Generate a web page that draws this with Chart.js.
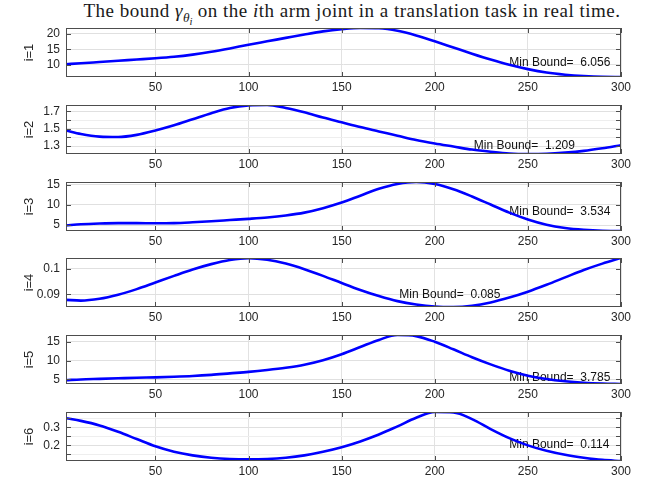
<!DOCTYPE html>
<html>
<head>
<meta charset="utf-8">
<script src="https://cdn.jsdelivr.net/npm/chart.js@4.4.0/dist/chart.umd.min.js"></script>
<style>
  html, body { margin: 0; padding: 0; background: #fff; }
  #fig { position: relative; width: 648px; height: 481px; overflow: hidden; background: #fff; }
  #title {
    position: absolute; left: 0; top: 0px; width: 704px; text-align: center;
    font-family: "Liberation Serif", "DejaVu Serif", serif; font-size: 19px; letter-spacing: 0.5px;
    color: #1a1a1a; white-space: nowrap; line-height: 22px;
  }
  #title sub { font-size: 70%; line-height: 0; vertical-align: -0.35em; letter-spacing: 0; }
  #title sub sub { font-size: 80%; vertical-align: -0.3em; }
  .panel { position: absolute; left: 0; }
</style>
</head>
<body>
<div id="fig">
  <div id="title">The bound <i>γ</i><sub><i>θ</i><sub><i>i</i></sub></sub> on the <i>i</i>th arm joint in a translation task in real time.</div>
</div>
<script>
// time samples (x axis)
const t = [2, 10, 20, 30, 40, 50, 60, 70, 80, 90, 100, 110, 120, 130, 140, 150,
           160, 170, 180, 190, 200, 210, 220, 230, 240, 250, 260, 270, 280, 290, 300];
const xTicks = [50, 100, 150, 200, 250, 300];

// bound on each joint
const joint1 = [10.2, 10.5, 10.9, 11.3, 11.7, 12.1, 12.6, 13.3, 14.2, 15.3, 16.5, 17.6, 18.7, 19.8, 20.8, 21.5,
                21.9, 21.8, 21.0, 19.5, 17.6, 15.6, 13.6, 11.7, 10.0, 8.6, 7.5, 6.8, 6.35, 6.1, 6.056];
const joint2 = [1.48, 1.44, 1.41, 1.405, 1.43, 1.48, 1.54, 1.61, 1.68, 1.74, 1.77, 1.775, 1.74, 1.69, 1.63, 1.575,
                1.52, 1.47, 1.42, 1.37, 1.33, 1.295, 1.26, 1.235, 1.215, 1.209, 1.212, 1.225, 1.245, 1.275, 1.31];
const joint3 = [4.9, 5.2, 5.4, 5.5, 5.5, 5.45, 5.5, 5.7, 5.95, 6.25, 6.55, 6.9, 7.4, 8.1, 9.2, 10.6,
                12.3, 14.0, 15.2, 15.7, 15.2, 13.9, 12.1, 10.1, 8.1, 6.4, 5.1, 4.3, 3.85, 3.6, 3.534];
const joint4 = [0.0878, 0.0875, 0.0882, 0.0898, 0.0920, 0.0946, 0.0972, 0.0997, 0.1018, 0.1034, 0.1041, 0.1035, 0.1020, 0.0998, 0.0972, 0.0944,
                0.0917, 0.0893, 0.0873, 0.0860, 0.0852, 0.085, 0.0855, 0.0868, 0.0887, 0.0910, 0.0937, 0.0966, 0.0995, 0.1020, 0.1042];
const joint5 = [4.8, 5.0, 5.15, 5.3, 5.45, 5.55, 5.7, 5.9, 6.2, 6.6, 7.0, 7.5, 8.1, 8.9, 10.1, 11.7,
                13.6, 15.5, 16.8, 16.5, 15.0, 13.0, 10.9, 9.0, 7.3, 6.0, 5.1, 4.5, 4.1, 3.88, 3.785];
const joint6 = [0.35, 0.335, 0.31, 0.275, 0.235, 0.195, 0.165, 0.145, 0.132, 0.125, 0.123, 0.125, 0.132, 0.145, 0.165, 0.19,
                0.222, 0.26, 0.305, 0.352, 0.384, 0.382, 0.345, 0.29, 0.24, 0.2, 0.17, 0.148, 0.132, 0.12, 0.114];

// labelled y ticks and unlabelled minor ticks
const yTicks1 = [10, 15, 20];     const yMinor1 = [];
const yTicks2 = [1.3, 1.5, 1.7];  const yMinor2 = [1.4, 1.6];
const yTicks3 = [5, 10, 15];      const yMinor3 = [];
const yTicks4 = [0.09, 0.1];      const yMinor4 = [];
const yTicks5 = [5, 10, 15];      const yMinor5 = [];
const yTicks6 = [0.2, 0.3];       const yMinor6 = [0.15, 0.25, 0.35];

// minimum bound of each joint and where its note sits (data coordinates)
const minBound = [6.056, 1.209, 3.534, 0.085, 3.785, 0.114];
const noteX = [240, 221, 240, 181, 240, 240];
const noteY = [10.8, 1.31, 8.4, 0.0897, 5.45, 0.206];

const joints = [joint1, joint2, joint3, joint4, joint5, joint6];
const majors = [yTicks1, yTicks2, yTicks3, yTicks4, yTicks5, yTicks6];
const minors = [yMinor1, yMinor2, yMinor3, yMinor4, yMinor5, yMinor6];

// panel geometry
const plotTops = [28, 105, 182, 258, 335, 412];
const plotH = 49, padTop = 14, xAxisH = 22, axisLeft = 66, plotRight = 621, W = 648;

const AXIS_COLOR = '#4d4d4d';
const TEXT_COLOR = '#262626';
const TICK_LEN = 5;

const framePlugin = {
  id: 'frame',
  beforeDatasetsDraw(chart) {
    const o = chart.options.plugins.frame;
    const { ctx } = chart;
    const xs = chart.scales.x, ys = chart.scales.y;
    ctx.save();
    ctx.font = '12px "Liberation Sans", Arial, sans-serif';
    ctx.fillStyle = '#111';
    ctx.textAlign = 'left';
    ctx.textBaseline = 'middle';
    ctx.fillText(o.note, xs.getPixelForValue(o.nx), ys.getPixelForValue(o.ny));
    ctx.restore();
  },
  afterDatasetsDraw(chart) {
    const o = chart.options.plugins.frame;
    const { ctx, chartArea: a } = chart;
    const xs = chart.scales.x, ys = chart.scales.y;
    ctx.save();
    ctx.strokeStyle = AXIS_COLOR;
    ctx.lineWidth = 1;
    ctx.beginPath();
    xTicks.forEach(v => {
      const px = Math.round(xs.getPixelForValue(v)) + 0.5;
      ctx.moveTo(px, a.bottom); ctx.lineTo(px, a.bottom - TICK_LEN);
      ctx.moveTo(px, a.top); ctx.lineTo(px, a.top + TICK_LEN);
    });
    o.yAll.forEach(v => {
      const py = Math.round(ys.getPixelForValue(v)) + 0.5;
      ctx.moveTo(a.left, py); ctx.lineTo(a.left + TICK_LEN, py);
      ctx.moveTo(a.right, py); ctx.lineTo(a.right - TICK_LEN, py);
    });
    ctx.stroke();
    ctx.strokeRect(Math.round(a.left) + 0.5, Math.round(a.top) + 0.5,
                   Math.round(a.right - a.left) - 1, Math.round(a.bottom - a.top) - 1);
    ctx.restore();
  }
};

const fig = document.getElementById('fig');

joints.forEach((data, k) => {
  const wrap = document.createElement('div');
  wrap.className = 'panel';
  const H = padTop + plotH + xAxisH;
  wrap.style.top = (plotTops[k] - padTop) + 'px';
  wrap.style.width = W + 'px';
  wrap.style.height = H + 'px';
  const cv = document.createElement('canvas');
  cv.width = W; cv.height = H;
  cv.style.width = W + 'px'; cv.style.height = H + 'px';
  wrap.appendChild(cv);
  fig.appendChild(wrap);

  const major = majors[k], minor = minors[k];
  const yAll = major.concat(minor).sort((a, b) => a - b);

  new Chart(cv, {
    type: 'line',
    data: {
      datasets: [{
        data: t.map((x, i) => ({ x: x, y: data[i] })),
        borderColor: '#0000ff',
        borderWidth: 2.6,
        pointRadius: 0,
        fill: false,
        cubicInterpolationMode: 'monotone'
      }]
    },
    options: {
      responsive: false,
      animation: false,
      devicePixelRatio: 1,
      layout: { padding: { top: padTop, right: W - plotRight, left: 0, bottom: 0 } },
      plugins: {
        legend: { display: false },
        tooltip: { enabled: false },
        frame: {
          note: 'Min Bound=  ' + minBound[k].toFixed(3),
          nx: noteX[k], ny: noteY[k], yAll: yAll
        }
      },
      scales: {
        x: {
          type: 'linear',
          min: t[0], max: t[t.length - 1],
          afterBuildTicks: s => { s.ticks = xTicks.map(v => ({ value: v })); },
          afterFit: s => { s.height = xAxisH; s.paddingLeft = 0; s.paddingRight = 0; },
          ticks: {
            color: TEXT_COLOR, padding: 3, maxRotation: 0, autoSkip: false,
            font: { family: '"Liberation Sans", Arial, sans-serif', size: 12 },
            callback: v => String(v)
          },
          grid: { color: '#e2e2e2', drawTicks: false, lineWidth: 1 },
          border: { display: false }
        },
        y: {
          type: 'linear',
          min: Math.min(...data), max: Math.max(...data),
          afterBuildTicks: s => { s.ticks = yAll.map(v => ({ value: v })); },
          afterFit: s => { s.width = axisLeft; s.paddingTop = 0; s.paddingBottom = 0; },
          ticks: {
            color: TEXT_COLOR, padding: 6, autoSkip: false,
            font: { family: '"Liberation Sans", Arial, sans-serif', size: 12 },
            callback: v => (major.includes(v) ? String(v) : '')
          },
          grid: {
            color: c => (c.tick && major.includes(c.tick.value)) ? '#e0e0e0' : '#eeeeee',
            drawTicks: false, lineWidth: 1
          },
          border: { display: false },
          title: {
            display: true, text: 'i=' + (k + 1), color: TEXT_COLOR,
            font: { family: '"Liberation Sans", Arial, sans-serif', size: 13 },
            padding: { top: 22, bottom: 0 }
          }
        }
      }
    },
    plugins: [framePlugin]
  });
});
</script>
</body>
</html>
